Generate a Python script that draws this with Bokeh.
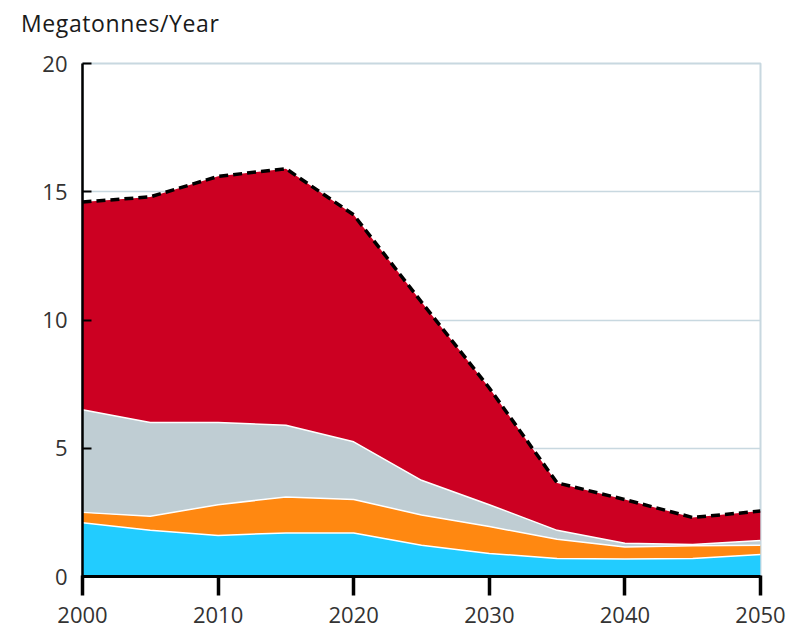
from bokeh.plotting import figure
from bokeh.models import FixedTicker, ColumnDataSource, Div
from bokeh.layouts import column
from bokeh.embed import file_html
from bokeh.resources import INLINE

years = [2000, 2005, 2010, 2015, 2020, 2025, 2030, 2035, 2040, 2045, 2050]
blue = [2.1, 1.8, 1.6, 1.7, 1.7, 1.22, 0.9, 0.7, 0.68, 0.7, 0.86]
orange = [0.4, 0.55, 1.2, 1.4, 1.3, 1.18, 1.05, 0.75, 0.47, 0.5, 0.36]
gray = [4.0, 3.65, 3.2, 2.8, 2.25, 1.35, 0.85, 0.35, 0.15, 0.05, 0.18]
red = [8.1, 8.8, 9.6, 10.0, 8.85, 6.95, 4.55, 1.85, 1.7, 1.05, 1.15]
y_ticks = [0, 5, 10, 15, 20]
x_ticks = [2000, 2010, 2020, 2030, 2040, 2050]

colors = ["#22CCFF", "#FF8811", "#BFCDD3", "#CC0022"]
names = ["blue", "orange", "gray", "red"]

src = ColumnDataSource(dict(year=years, blue=blue, orange=orange, gray=gray, red=red))

title = Div(text="Megatonnes/Year", width=300, height=36,
            styles={"font-family": "Open Sans", "font-size": "23px", "color": "#1a1a1a",
                    "letter-spacing": "0.6px",
                    "padding-left": "16px", "padding-top": "3px", "line-height": "30px"})

p = figure(width=792, height=585, output_backend="svg", toolbar_location=None,
           x_range=(2000, 2050), y_range=(0, 20),
           min_border_left=82, min_border_right=32, min_border_top=17, min_border_bottom=55)

p.varea_stack(stackers=names, x="year", color=colors, source=src)

cum = [0.0] * len(years)
for i, n in enumerate(names):
    vals = src.data[n]
    cum = [c + v for c, v in zip(cum, vals)]
    if i < len(names) - 1:
        p.line(years, cum, line_color="white", line_width=1.5)
p.line(years, cum, line_color="black", line_width=3.5, line_dash="9 5")

p.xgrid.grid_line_color = None
p.ygrid.grid_line_color = "#C8D8E0"
p.ygrid.grid_line_width = 1.5
p.outline_line_color = "#C8D8E0"
p.outline_line_width = 2

xa = p.xaxis[0]
ya = p.yaxis[0]
xa.ticker = FixedTicker(ticks=x_ticks, minor_ticks=[])
ya.ticker = FixedTicker(ticks=y_ticks, minor_ticks=[])
for ax in (xa, ya):
    ax.axis_line_color = "black"
    ax.major_tick_line_color = "black"
    ax.minor_tick_line_color = None
    ax.major_label_text_font = "Open Sans"
    ax.major_label_text_font_size = "22px"
    ax.major_label_text_color = "#333333"
    ax.major_label_text_line_height = 1.0

xa.axis_line_width = 3
xa.major_tick_line_width = 3.5
xa.major_tick_out = 19
xa.major_tick_in = 1
xa.major_label_standoff = 11

ya.axis_line_width = 2.5
ya.major_tick_line_width = 2
ya.major_tick_out = 0
ya.major_tick_in = 9
ya.major_label_standoff = 15

layout = column(title, p, spacing=0)
open("out.html", "w").write(file_html(layout, INLINE))
